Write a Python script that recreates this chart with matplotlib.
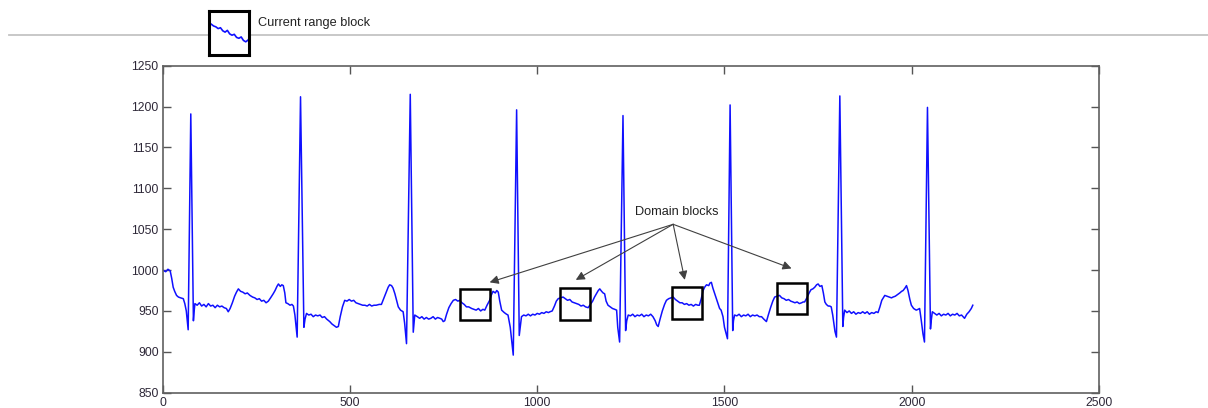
import matplotlib
matplotlib.use('Agg')
import matplotlib.pyplot as plt
from matplotlib.patches import Rectangle
from matplotlib.lines import Line2D

plt.rcParams['font.family'] = ['Liberation Sans', 'DejaVu Sans']

# ECG trace (sample index, amplitude)
ecg_x = [0, 8, 14, 20, 24, 28, 32, 37, 42, 48, 55, 59, 63, 68, 75, 82, 84, 86,
         92, 98, 104, 110, 116, 122, 128, 134, 140, 146, 152, 158, 164, 170, 175, 180,
         186, 192, 197, 202, 208, 214, 220, 226, 233, 240, 246, 252, 258, 264, 270, 276,
         282, 288, 295, 300, 305, 309, 314, 318, 322, 326, 329, 334, 340, 345, 349, 353,
         359, 368, 377, 380, 384, 390, 396, 402, 408, 414, 420, 426, 432, 438, 446, 452,
         458, 464, 469, 474, 480, 486, 492, 498, 504, 510, 516, 522, 528, 534, 540, 546,
         552, 558, 564, 570, 578, 584, 590, 596, 602, 606, 611, 615, 620, 625, 629, 635,
         642, 646, 651, 661, 669, 671, 673, 680, 686, 692, 698, 704, 710, 716, 722, 728,
         734, 740, 745, 749, 753, 758, 764, 770, 776, 782, 788, 793, 799, 805, 811, 817,
         825, 831, 837, 843, 849, 855, 860, 866, 873, 878, 882, 888, 892, 896, 900, 905,
         912, 918, 922, 928, 936, 945, 952, 955, 958, 964, 970, 976, 982, 988, 994, 1000,
         1006, 1012, 1018, 1024, 1030, 1034, 1040, 1046, 1051, 1056, 1062, 1069, 1075, 1081, 1087, 1093,
         1099, 1105, 1111, 1117, 1123, 1129, 1136, 1142, 1148, 1153, 1158, 1163, 1167, 1172, 1176, 1180,
         1184, 1189, 1195, 1201, 1207, 1212, 1215, 1220, 1229, 1236, 1239, 1243, 1249, 1255, 1261, 1267,
         1273, 1279, 1285, 1291, 1297, 1303, 1309, 1315, 1319, 1323, 1328, 1334, 1340, 1345, 1351, 1357,
         1363, 1369, 1375, 1381, 1387, 1393, 1399, 1405, 1411, 1417, 1423, 1429, 1433, 1438, 1443, 1447,
         1452, 1458, 1461, 1465, 1469, 1474, 1478, 1483, 1487, 1491, 1496, 1500, 1508, 1515, 1522, 1524,
         1527, 1533, 1539, 1545, 1551, 1557, 1563, 1569, 1575, 1581, 1587, 1593, 1599, 1605, 1612, 1617,
         1623, 1629, 1634, 1640, 1647, 1653, 1659, 1665, 1671, 1677, 1683, 1688, 1694, 1700, 1706, 1710,
         1714, 1720, 1726, 1731, 1736, 1741, 1746, 1750, 1755, 1760, 1764, 1768, 1772, 1777, 1781, 1785,
         1789, 1795, 1799, 1808, 1816, 1818, 1821, 1827, 1833, 1839, 1845, 1851, 1857, 1863, 1869, 1875,
         1881, 1887, 1893, 1899, 1905, 1910, 1915, 1920, 1928, 1934, 1940, 1946, 1950, 1956, 1962, 1968,
         1973, 1977, 1982, 1986, 1990, 1995, 1999, 2005, 2012, 2017, 2021, 2025, 2030, 2034, 2042, 2050,
         2052, 2055, 2061, 2067, 2073, 2079, 2085, 2091, 2097, 2103, 2109, 2115, 2121, 2127, 2133, 2139,
         2141, 2147, 2153, 2159, 2163]
ecg_y = [1000, 998, 1001, 999, 990, 979, 974, 969, 967, 966, 965, 959, 950, 927, 1191, 938, 950, 959,
         957, 960, 956, 958, 955, 959, 956, 957, 954, 957, 955, 956, 954, 953, 949, 953,
         960, 968, 973, 977, 974, 973, 971, 972, 969, 967, 966, 964, 965, 962, 963, 960,
         962, 966, 971, 975, 980, 983, 980, 982, 981, 972, 960, 959, 957, 958, 956, 945,
         918, 1212, 930, 940, 947, 945, 946, 943, 945, 944, 945, 942, 943, 940, 937, 934,
         932, 930, 931, 943, 955, 963, 962, 964, 962, 963, 960, 959, 958, 957, 957, 956,
         958, 956, 957, 957, 958, 958, 965, 972, 979, 982, 981, 978, 971, 962, 955, 951,
         949, 935, 910, 1215, 924, 935, 945, 943, 941, 943, 940, 942, 940, 941, 943, 940,
         942, 941, 940, 937, 938, 946, 954, 959, 963, 964, 962, 963, 960, 958, 955, 955,
         953, 952, 951, 953, 950, 952, 951, 957, 963, 970, 974, 972, 975, 973, 962, 951,
         948, 946, 945, 930, 896, 1196, 920, 932, 943, 945, 944, 946, 944, 946, 945, 947,
         946, 948, 947, 949, 948, 949, 950, 956, 962, 965, 966, 967, 965, 963, 964, 961,
         960, 959, 958, 956, 957, 955, 954, 958, 962, 967, 971, 975, 977, 974, 972, 971,
         962, 957, 955, 953, 952, 951, 930, 912, 1189, 926, 938, 945, 944, 946, 943, 945,
         944, 946, 943, 945, 944, 946, 943, 938, 933, 931, 940, 950, 958, 963, 965, 966,
         967, 964, 962, 960, 960, 958, 959, 957, 958, 956, 958, 957, 957, 965, 975, 979,
         982, 981, 984, 985, 978, 971, 965, 958, 953, 951, 943, 930, 916, 1202, 926, 938,
         945, 944, 946, 943, 945, 944, 946, 943, 945, 944, 945, 943, 943, 940, 937, 945,
         954, 962, 967, 968, 969, 966, 965, 963, 964, 962, 961, 960, 961, 959, 960, 961,
         961, 966, 972, 976, 977, 979, 982, 983, 980, 981, 972, 961, 958, 956, 956, 955,
         945, 925, 918, 1213, 931, 942, 951, 948, 950, 947, 949, 946, 948, 947, 949, 947,
         949, 946, 948, 947, 949, 948, 955, 963, 969, 968, 967, 966, 967, 968, 970, 972,
         974, 975, 978, 981, 975, 964, 957, 953, 951, 952, 953, 940, 922, 912, 1199, 928,
         938, 949, 947, 945, 947, 944, 946, 945, 947, 944, 946, 945, 947, 944, 945, 942,
         941, 946, 949, 953, 957]

# domain blocks (start sample, lower / upper amplitude)
domain_start = [795, 1060, 1359, 1640]
domain_lo = [939, 939, 940, 946]
domain_hi = [977, 978, 979, 984]
block_len = 80

# where the arrows from the label end
arrow_tip_x = [873, 1103, 1394, 1679]
arrow_tip_y = [985, 988, 988, 1002]

# the small "current range" piece shown on top
range_block = [0.70, 0.66, 0.64, 0.60, 0.62, 0.55, 0.52, 0.56, 0.48, 0.45,
               0.47, 0.40, 0.38, 0.41, 0.33, 0.30, 0.34, 0.42]

W, H = 1208, 408
fig = plt.figure(figsize=(W / 100, H / 100), dpi=100)

# thin separator line at the top
fig.add_artist(Line2D([9 / W, 1.0], [1 - 34.7 / H] * 2, color='#c4c4c4', lw=1.3, zorder=0))

ax = fig.add_axes([162.7 / W, 1 - 392.7 / H, (1099 - 162.7) / W, (392.7 - 65.7) / H])
ax.plot(ecg_x, ecg_y, color='#1010ff', lw=1.1)
ax.set_xlim(0, 2500)
ax.set_ylim(850, 1250)
ax.set_xticks([0, 500, 1000, 1500, 2000, 2500])
ax.set_yticks(range(850, 1251, 50))
ax.tick_params(direction='in', length=6, width=1.0, color='#555555', top=True, right=True,
               labelsize=8.8, labelcolor='#2e2838', pad=3)
for s in ax.spines.values():
    s.set_color('#606060')
    s.set_linewidth(1.2)

for x0, lo, hi in zip(domain_start, domain_lo, domain_hi):
    ax.add_patch(Rectangle((x0, lo), block_len, hi - lo, fill=False, ec='black', lw=1.8, zorder=3))

ox, oy = 1363, 1056
ax.text(1372, 1071, 'Domain blocks', ha='center', va='center', fontsize=9.2, color='#222222')
for tx, ty in zip(arrow_tip_x, arrow_tip_y):
    ax.annotate('', xy=(tx, ty), xytext=(ox, oy),
                arrowprops=dict(arrowstyle='-|>', color='#404040', lw=0.8,
                                mutation_scale=13, shrinkA=0, shrinkB=0))

# inset with the current range block
ins = fig.add_axes([208.5 / W, 1 - 55 / H, 40.5 / W, 44 / H], zorder=1)
ins.set_facecolor('white')
ins.plot(range(len(range_block)), range_block, color='#1010ff', lw=1.2)
ins.set_xlim(-1.2, len(range_block) - 1.6)
ins.set_ylim(0, 1)
ins.set_xticks([])
ins.set_yticks([])
for s in ins.spines.values():
    s.set_color('black')
    s.set_linewidth(2.2)

fig.text(258 / W, 1 - 22.7 / H, 'Current range block', ha='left', va='center',
         fontsize=9.2, color='#222222')

fig.savefig('out.png', dpi=100)
